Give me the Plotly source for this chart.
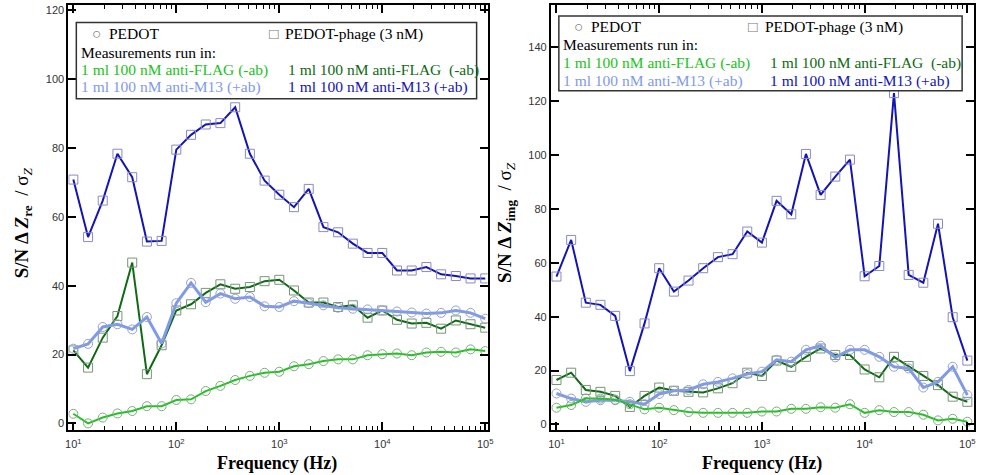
import plotly.graph_objects as go

W, H = 981, 475

freq = [10, 13.9, 19.3, 26.8, 37.3, 51.8, 72.0, 100, 139, 193, 268, 373, 518, 720,
        1000, 1389, 1931, 2683, 3728, 5179, 7197, 10000, 13895, 19307, 26827, 37276,
        51795, 71969, 100000]

# Left panel: S/N dZ_re / sigma_Z
re_phage_m13 = [70.8, 54.1, 64.7, 78.3, 71.5, 52.8, 53.0, 79.5, 83.8, 86.8, 87.2, 91.8, 78.3, 70.5,
                66.4, 62.8, 68.1, 57.0, 55.5, 52.2, 49.5, 49.5, 44.4, 44.4, 45.4, 43.3, 42.8, 42.1, 42.1]
re_phage_flag = [21.2, 16.2, 24.9, 31.2, 46.7, 14.3, 22.7, 32.8, 34.6, 37.9, 40.4, 39.1, 39.6, 41.3,
                 41.7, 38.6, 35.1, 35.1, 33.8, 34.3, 30.7, 32.8, 30.1, 29.0, 29.2, 27.5, 29.9, 28.8, 27.8]
re_pedot_m13 = [21.7, 23.1, 28.0, 28.8, 27.3, 30.9, 23.2, 34.9, 40.8, 35.2, 37.7, 36.2, 36.7, 34.0,
                33.8, 35.5, 34.9, 34.3, 33.6, 33.3, 33.1, 32.8, 32.5, 32.2, 31.9, 32.1, 32.8, 32.1, 30.4]
re_pedot_flag = [2.8, 0.0, 1.7, 2.9, 3.6, 5.0, 5.0, 6.8, 7.0, 9.4, 10.9, 12.6, 13.8, 14.7,
                 15.0, 16.6, 17.2, 18.1, 18.6, 18.6, 19.8, 20.1, 20.3, 19.8, 20.6, 20.8, 20.6, 21.5, 21.0]

# Right panel: S/N dZ_img / sigma_Z
im_phage_m13 = [54.9, 68.5, 45.2, 44.4, 40.3, 19.8, 37.5, 58.0, 49.3, 53.4, 58.0, 62.1, 63.2, 71.6,
                67.5, 83.0, 78.0, 100.4, 85.2, 92.0, 98.3, 55.0, 58.8, 123.0, 55.5, 52.6, 74.5, 39.8, 23.7]
im_phage_flag = [16.5, 19.2, 12.8, 12.1, 10.6, 6.5, 10.6, 13.7, 12.5, 12.1, 11.9, 13.4, 15.3, 19.2,
                 18.0, 23.7, 21.4, 25.1, 28.2, 25.8, 25.8, 20.4, 17.5, 25.1, 21.7, 18.0, 14.6, 10.3, 8.4]
im_pedot_m13 = [11.5, 9.6, 8.4, 9.0, 9.0, 8.4, 7.5, 11.3, 12.5, 12.8, 14.9, 15.8, 17.1, 18.7,
                19.6, 24.0, 23.3, 27.7, 29.2, 24.9, 27.7, 27.7, 25.1, 21.4, 20.8, 13.7, 15.8, 21.4, 10.9]
im_pedot_flag = [6.2, 7.2, 9.6, 9.6, 9.2, 7.5, 5.6, 6.2, 5.3, 4.6, 4.3, 4.3, 4.3, 4.3,
                 4.8, 4.8, 5.8, 5.8, 6.4, 6.2, 7.5, 4.3, 5.3, 4.6, 4.6, 3.6, 1.5, 2.1, 1.0]

x_tickvals = [10, 100, 1000, 10000, 100000]
x_ticktext = ["10<sup>1</sup>", "10<sup>2</sup>", "10<sup>3</sup>", "10<sup>4</sup>", "10<sup>5</sup>"]

C_DBLUE = "#1414b4"
C_DGREEN = "#0f6a14"
C_LBLUE = "#7f9be8"
C_BGREEN = "#22c222"

series_style = [
    # (key, color, width, symbol, marker color)
    ("phage_m13", C_DBLUE, 2, "square-open", "#8a8ac0"),
    ("phage_flag", C_DGREEN, 2, "square-open", "#7a947a"),
    ("pedot_m13", C_LBLUE, 3, "circle-open", "#9aa0c4"),
    ("pedot_flag", C_BGREEN, 2, "circle-open", "#80aa80"),
]

data_left = {"phage_m13": re_phage_m13, "phage_flag": re_phage_flag,
             "pedot_m13": re_pedot_m13, "pedot_flag": re_pedot_flag}
data_right = {"phage_m13": im_phage_m13, "phage_flag": im_phage_flag,
              "pedot_m13": im_pedot_m13, "pedot_flag": im_pedot_flag}

fig = go.Figure()
for data, xa, ya in [(data_left, "x", "y"), (data_right, "x2", "y2")]:
    for key, col, lw, sym, mcol in series_style:
        fig.add_trace(go.Scatter(
            x=freq, y=data[key], xaxis=xa, yaxis=ya, mode="lines+markers",
            line=dict(color=col, width=lw),
            marker=dict(symbol=sym, size=9, color=mcol, line=dict(width=1, color=mcol)),
            showlegend=False, hoverinfo="skip"))

minor_vals = [m * 10 ** d for d in range(0, 6) for m in range(2, 10)]

def xaxis_cfg(domain, rng, anchor):
    return dict(domain=domain, type="log", range=rng, showgrid=False, zeroline=False, anchor=anchor,
                showline=True, linecolor="black", linewidth=2, mirror="allticks",
                ticks="inside", ticklen=8, tickwidth=1.5, tickcolor="black",
                tickmode="array", tickvals=x_tickvals, ticktext=x_ticktext, ticklabelstandoff=3,
                tickfont=dict(family="Liberation Sans", size=11, color="#333"),
                minor=dict(ticks="inside", ticklen=4, tickwidth=1, tickcolor="black",
                           tickmode="array", tickvals=minor_vals, showgrid=False))

def yaxis_cfg(domain, rng, anchor, dt):
    return dict(domain=domain, range=rng, showgrid=False, zeroline=False, anchor=anchor,
                showline=True, linecolor="black", linewidth=2, mirror="allticks",
                ticks="inside", ticklen=8, tickwidth=1.5, tickcolor="black", dtick=dt, tick0=0,
                tickfont=dict(family="Liberation Sans", size=11, color="#333"))

ydom = [45 / H, 471 / H]
fig.update_layout(
    width=W, height=H, margin=dict(l=0, r=0, t=0, b=0),
    paper_bgcolor="white", plot_bgcolor="white",
    xaxis=xaxis_cfg([66 / W, 489 / W], [0.952, 5.022], "y"),
    yaxis=yaxis_cfg(ydom, [-1.94, 121.5], "x", 20),
    xaxis2=xaxis_cfg([553 / W, 979.5 / W], [0.946, 5.06], "y2"),
    yaxis2=yaxis_cfg(ydom, [-2.1, 155.7], "x2", 20),
)

def px(x):
    return x / W

def py(y):
    return 1 - y / H

ann = []
title_font = dict(family="Liberation Serif", size=18, color="black")
ytitle_font = dict(family="Liberation Serif", size=19, color="black")
ann.append(dict(text="<b>Frequency (Hz)</b>", x=px(277), y=py(463), font=title_font))
ann.append(dict(text="<b>Frequency (Hz)</b>", x=px(766), y=py(463), font=title_font))
ann.append(dict(text="<b>S/N Δ <i>Z</i><sub>re</sub></b>  / σ<sub><i>Z</i></sub>",
                x=px(20), y=py(222), textangle=-90, font=ytitle_font))
ann.append(dict(text="<b>S/N Δ <i>Z</i><sub>img</sub></b>  / σ<sub><i>Z</i></sub>",
                x=px(507), y=py(222), textangle=-90, font=ytitle_font))

leg_font = 15.5
def leg(x, y, text, color="black"):
    ann.append(dict(text=text, x=px(x), y=py(y), xanchor="left", yanchor="middle",
                    font=dict(family="Liberation Serif", size=leg_font, color=color)))

# legend boxes: (box x0, y0, x1, y1, col1 x, col2 x, symbol1 x, symbol2 x, row ys)
boxes = [
    (74, 21.5, 478, 98, 77, 286, 88, 266, [33, 52, 69.5, 86.5]),
    (561, 15, 968, 90, 563, 772, 574, 750, [26, 44, 62, 80]),
]
shapes = []
for (x0, y0, x1, y1, c1, c2, s1, s2, rows) in boxes:
    shapes.append(dict(type="rect", xref="paper", yref="paper", x0=px(x0), x1=px(x1),
                       y0=py(y1), y1=py(y0), line=dict(color="#333", width=1.5),
                       fillcolor="white", layer="above"))
    leg(s1, rows[0], "○", "#777")
    leg(s1 + 17, rows[0], "PEDOT")
    leg(s2, rows[0], "□", "#777")
    leg(s2 + 17, rows[0], "PEDOT-phage (3 nM)")
    leg(c1, rows[1], "Measurements run in:")
    leg(c1, rows[2], "1 ml 100 nM anti-FLAG (-ab)", C_BGREEN)
    leg(c2, rows[2], "1 ml 100 nM anti-FLAG  (-ab)", C_DGREEN)
    leg(c1, rows[3], "1 ml 100 nM anti-M13 (+ab)", C_LBLUE)
    leg(c2, rows[3], "1 ml 100 nM anti-M13 (+ab)", C_DBLUE)

for a in ann:
    a.setdefault("xref", "paper")
    a.setdefault("yref", "paper")
    a.setdefault("xanchor", "center")
    a.setdefault("yanchor", "middle")
    a.setdefault("showarrow", False)
fig.update_layout(annotations=ann, shapes=shapes)

fig.write_html("out.html")
